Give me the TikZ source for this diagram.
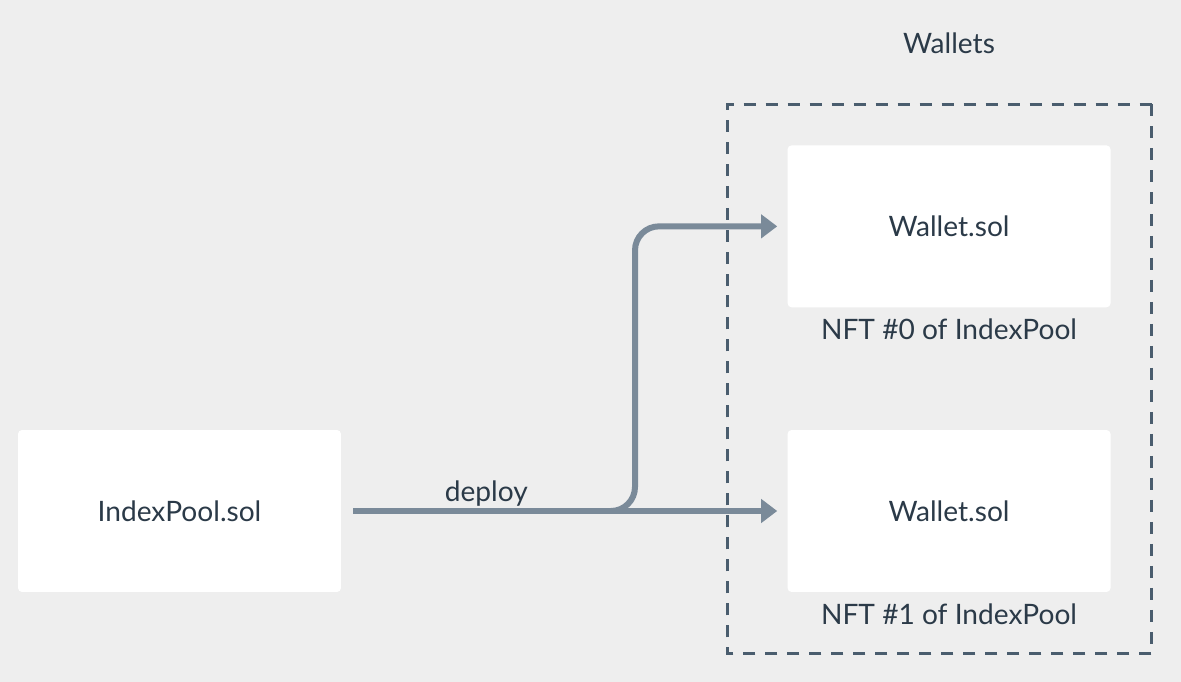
\documentclass[tikz,border=0pt]{standalone}
\usepackage{fontspec}
\setmainfont{Lato}
\usetikzlibrary{arrows.meta,positioning}
\definecolor{bgcol}{HTML}{EEEEEE}
\definecolor{textcol}{HTML}{2B3A48}
\definecolor{flowcol}{HTML}{7A8A99}
\definecolor{framecol}{HTML}{4A5D6E}
\tikzstyle{block} = [fill=white, rectangle, rounded corners=0.08cm, inner sep=0pt, minimum height=3.24cm, minimum width=6.46cm, text=textcol, font=\fontsize{16}{19}\selectfont]
\tikzstyle{caption} = [text=textcol, font=\fontsize{16}{19}\selectfont]
\tikzstyle{flow} = [draw=flowcol, line width=0.12cm, -{Triangle[length=0.32cm, width=0.46cm]}, shorten >=0.2cm, shorten <=0.24cm]
\tikzstyle{frame} = [draw=framecol, line width=0.06cm, dash pattern=on 0.24cm off 0.2cm]

\begin{document}
\begin{tikzpicture}[x=0.02cm, y=-0.02cm]

\fill [bgcol] (0,0) rectangle (1181,682);
\useasboundingbox (0,0) rectangle (1181,682);

\node [block] (index) at (179.5,511) {IndexPool.sol};
\node [block, right=8.92cm of index] (wallet2) {Wallet.sol};
\node [block, above=2.44cm of wallet2] (wallet1) {Wallet.sol};

\node [caption, below=0.1cm of wallet1] (nft0) {NFT \#0 of IndexPool};
\node [caption, below=0.1cm of wallet2] (nft1) {NFT \#1 of IndexPool};

\coordinate (bend) at (635,511);
\draw [flow] (index) -- node [caption, above, pos=0.325, inner sep=1pt] (deploy) {deploy} (wallet2);
\draw [flow, rounded corners=0.48cm] (index.east) -- (bend) |- (wallet1.west);

\node [coordinate, xshift=0.82cm, yshift=0.82cm] (upperrightcorner) at (wallet1.north east) {};
\node [coordinate, xshift=-1.2cm, yshift=-1.22cm] (lowerleftcorner) at (wallet2.south west) {};
\draw [frame] (upperrightcorner) rectangle (lowerleftcorner);
\node [caption, yshift=2.04cm] (wallets) at (wallet1.north) {Wallets};

\end{tikzpicture}
\end{document}
